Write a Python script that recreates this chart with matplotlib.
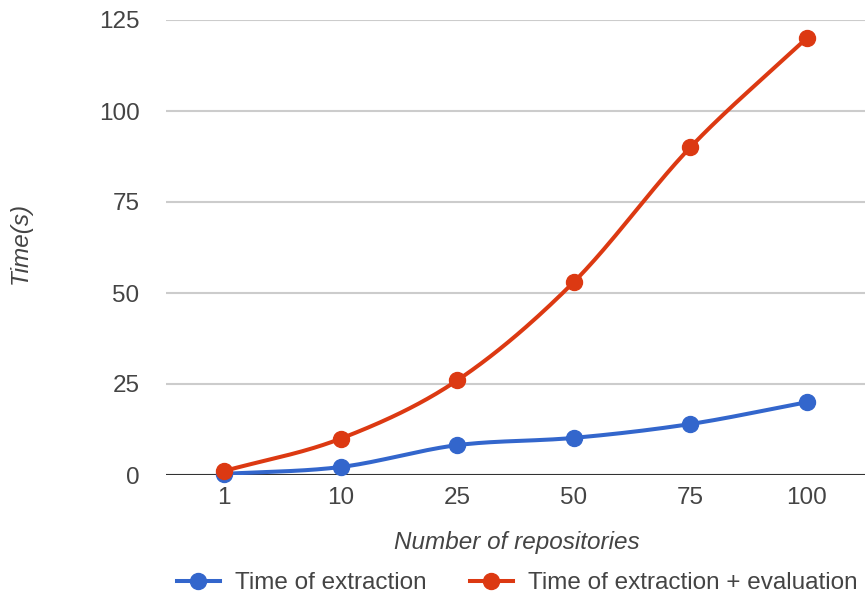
import numpy as np
import matplotlib
matplotlib.use("Agg")
from matplotlib import pyplot as plt
from matplotlib.lines import Line2D

plt.rcParams['font.family'] = ['Liberation Sans', 'DejaVu Sans']

# repositories vs time
repos = ['1', '10', '25', '50', '75', '100']
extraction = [0.3, 2.2, 8.2, 10.2, 14, 20]
extraction_eval = [1.1, 10, 26, 53, 90, 120]
yticks = [0, 25, 50, 75, 100, 125]

BLUE = '#3366cc'
RED = '#dc3912'
FS = 17.5


def smooth(xs, ys, n=40):
    # catmull-rom curve through the points
    xs = np.asarray(xs, float)
    ys = np.asarray(ys, float)
    px = np.concatenate([[2 * xs[0] - xs[1]], xs, [2 * xs[-1] - xs[-2]]])
    py = np.concatenate([[2 * ys[0] - ys[1]], ys, [2 * ys[-1] - ys[-2]]])
    outx, outy = [], []
    t = np.linspace(0, 1, n)
    for i in range(1, len(px) - 2):
        for p, out in ((px, outx), (py, outy)):
            p0, p1, p2, p3 = p[i - 1], p[i], p[i + 1], p[i + 2]
            out.extend(0.5 * (2 * p1 + (-p0 + p2) * t
                              + (2 * p0 - 5 * p1 + 4 * p2 - p3) * t ** 2
                              + (-p0 + 3 * p1 - 3 * p2 + p3) * t ** 3))
    return outx, outy


fig = plt.figure(figsize=(8.65, 6.0), dpi=100)
ax = fig.add_axes([166 / 865, 1 - 475 / 600, 1 - 166 / 865, (475 - 20) / 600])

x = np.arange(len(repos))
for vals, c in ((extraction, BLUE), (extraction_eval, RED)):
    sx, sy = smooth(x, vals)
    ax.plot(sx, sy, color=c, lw=2.9, solid_capstyle='round', zorder=3)
    ax.plot(x, vals, 'o', color=c, ms=11.5, zorder=4, clip_on=False)

ax.set_xlim(-0.5, 5.5)
ax.set_ylim(0, 125)
ax.set_xticks(x)
ax.set_xticklabels(repos)
ax.set_yticks(yticks)
for s in ax.spines.values():
    s.set_visible(False)
ax.grid(axis='y', color='#cccccc', lw=1.5)
ax.axhline(0, color='#333333', lw=1.5, zorder=2)
ax.set_axisbelow(True)
ax.tick_params(axis='both', length=0, labelsize=FS, colors='#444444')
ax.tick_params(axis='y', pad=19)
ax.tick_params(axis='x', pad=9)

fig.text(517 / 865, 1 - 543 / 600, 'Number of repositories', ha='center', va='center',
         fontsize=FS, style='italic', color='#444444')
fig.text(20 / 865, 1 - 243 / 600, 'Time(s)', ha='center', va='center', rotation=90,
         fontsize=FS, style='italic', color='#444444')

handles = [Line2D([], [], color=BLUE, lw=2.9, marker='o', ms=11.5),
           Line2D([], [], color=RED, lw=2.9, marker='o', ms=11.5)]
leg = fig.legend(handles, ['Time of extraction', 'Time of extraction + evaluation'],
                 loc='center', bbox_to_anchor=(517 / 865, 1 - 583 / 600), ncol=2,
                 frameon=False, fontsize=FS, handlelength=1.77, handletextpad=0.63,
                 columnspacing=1.77, borderpad=0, borderaxespad=0)
for t in leg.get_texts():
    t.set_color('#444444')

plt.savefig('out.png')
